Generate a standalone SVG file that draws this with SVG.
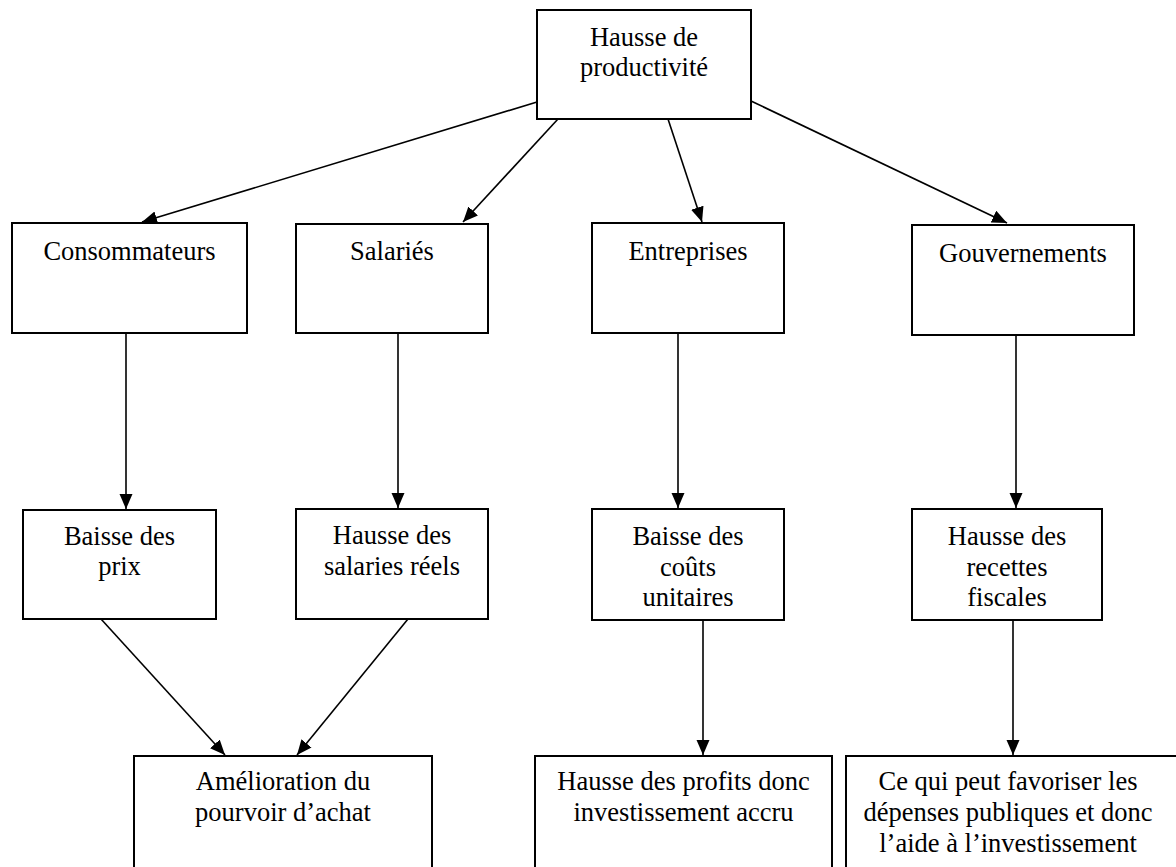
<svg xmlns="http://www.w3.org/2000/svg" width="1176" height="867" viewBox="0 0 1176 867">
<style>
.box{fill:#fff;stroke:#000;stroke-width:2}
.t{font-family:"Liberation Serif","Times New Roman",serif;font-size:26.5px;fill:#000;text-anchor:middle}
.c{stroke:#000;stroke-width:1.6;fill:none;marker-end:url(#ah)}
</style>
<defs>
<marker id="ah" markerUnits="userSpaceOnUse" markerWidth="16" markerHeight="14" refX="15" refY="6.5" orient="auto">
<path d="M0,0 L15,6.5 L0,13 z" fill="#000"/>
</marker>
</defs>
<rect width="1176" height="867" fill="#fff"/>
<g id="connectors">
<line class="c" x1="537" y1="102" x2="142" y2="222"/>
<line class="c" x1="558" y1="119" x2="463" y2="222"/>
<line class="c" x1="668" y1="119" x2="702" y2="222"/>
<line class="c" x1="751" y1="101" x2="1007" y2="223"/>
<line class="c" x1="126" y1="333" x2="126" y2="509"/>
<line class="c" x1="398" y1="333" x2="398" y2="508"/>
<line class="c" x1="678" y1="333" x2="678" y2="508"/>
<line class="c" x1="1016" y1="334" x2="1016" y2="508"/>
<line class="c" x1="101" y1="619" x2="225" y2="755"/>
<line class="c" x1="408" y1="619" x2="297" y2="755"/>
<line class="c" x1="703" y1="620" x2="703" y2="755"/>
<line class="c" x1="1013" y1="620" x2="1013" y2="755"/>
</g>
<g id="n-top"><rect class="box" x="537" y="10" width="214" height="109"/><text class="t" x="644" y="46">Hausse de</text><text class="t" x="644" y="76">productivité</text></g>
<g id="n-consommateurs"><rect class="box" x="12" y="223" width="235" height="110"/><text class="t" x="129.5" y="260">Consommateurs</text></g>
<g id="n-salaries"><rect class="box" x="296" y="224" width="192" height="109"/><text class="t" x="392" y="260">Salariés</text></g>
<g id="n-entreprises"><rect class="box" x="592" y="223" width="192" height="110"/><text class="t" x="688" y="260">Entreprises</text></g>
<g id="n-gouvernements"><rect class="box" x="912" y="225" width="222" height="110"/><text class="t" x="1023" y="262">Gouvernements</text></g>
<g id="n-prix"><rect class="box" x="23" y="510" width="193" height="109"/><text class="t" x="119.5" y="545">Baisse des</text><text class="t" x="119.5" y="575">prix</text></g>
<g id="n-salreels"><rect class="box" x="296" y="509" width="192" height="110"/><text class="t" x="392" y="544">Hausse des</text><text class="t" x="392" y="575">salaries réels</text></g>
<g id="n-couts"><rect class="box" x="592" y="509" width="192" height="111"/><text class="t" x="688" y="545">Baisse des</text><text class="t" x="688" y="576">coûts</text><text class="t" x="688" y="606">unitaires</text></g>
<g id="n-recettes"><rect class="box" x="912" y="509" width="190" height="111"/><text class="t" x="1007" y="545">Hausse des</text><text class="t" x="1007" y="576">recettes</text><text class="t" x="1007" y="606">fiscales</text></g>
<g id="n-pouvoir"><rect class="box" x="134" y="756" width="298" height="120"/><text class="t" x="283" y="790">Amélioration du</text><text class="t" x="283" y="821">pourvoir d’achat</text></g>
<g id="n-profits"><rect class="box" x="535" y="756" width="297" height="120"/><text class="t" x="683.5" y="790">Hausse des profits donc</text><text class="t" x="683.5" y="821">investissement accru</text></g>
<g id="n-public"><rect class="box" x="846" y="756" width="340" height="120"/><text class="t" x="1008" y="790">Ce qui peut favoriser les</text><text class="t" x="1008" y="821">dépenses publiques et donc</text><text class="t" x="1008" y="852">l’aide à l’investissement</text></g>
</svg>
